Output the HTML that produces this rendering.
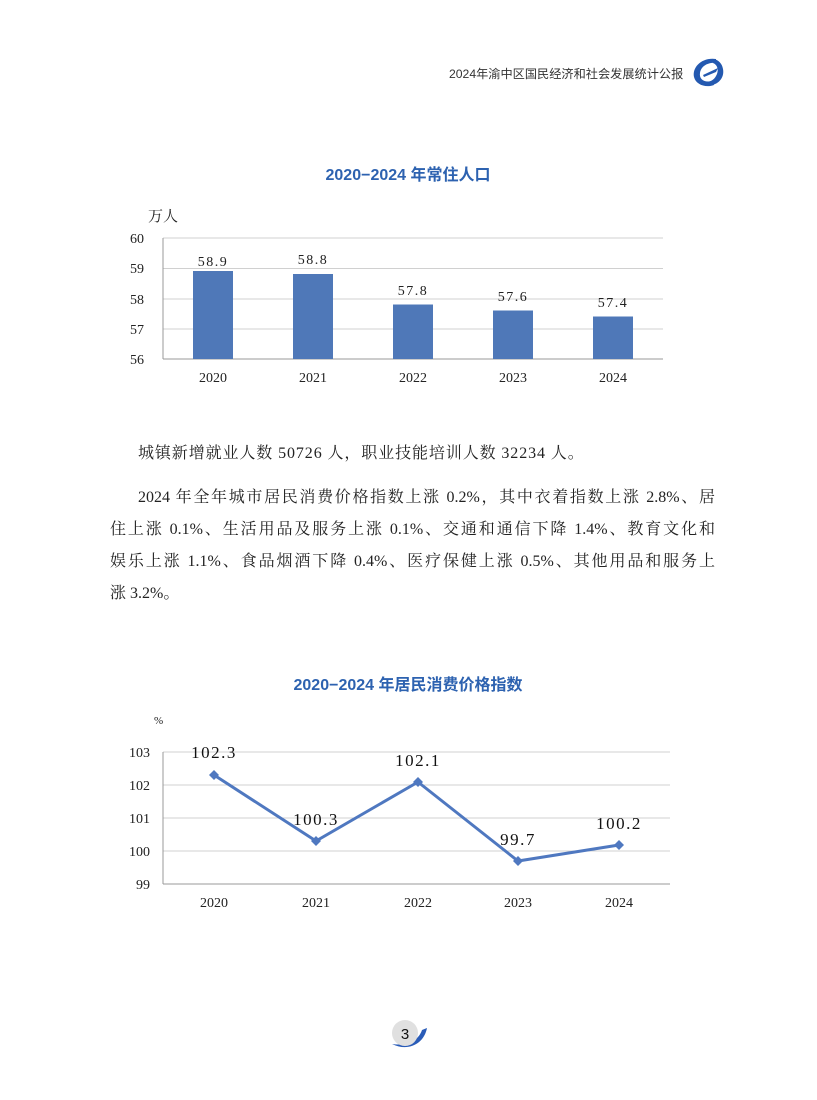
<!DOCTYPE html>
<html><head><meta charset="utf-8"><style>
body{margin:0;width:817px;height:1100px;background:#fff;position:relative;font-family:"Liberation Serif","Noto Serif CJK SC",serif;overflow:hidden}
.l{position:absolute;font-size:16px;color:#222;left:110px;width:605px;line-height:32px;white-space:nowrap;text-align:justify;text-align-last:justify}
</style></head><body>
<div style="position:absolute;left:449px;top:64px;font-family:'Liberation Sans','Noto Sans CJK SC',sans-serif;font-size:12.2px;color:#333;white-space:nowrap">2024年渝中区国民经济和社会发展统计公报</div>
<svg style="position:absolute;left:688px;top:55px" width="40" height="36" viewBox="0 0 40 36">
<path d="M28 4 C14 2 4 12 6 22 C8 30 18 33 26 30 L24 26 C16 28 11 24 12 18 C13 11 20 7 28 8 Z" fill="#2459b0"/>
<path d="M18 30 C28 32 37 24 35 14 C34 8 30 5 26 4 L25 8 C30 10 31 16 28 21 C26 25 22 27 18 27 Z" fill="#2459b0"/>
<path d="M15 20 L30 13 L28 17 L16 22Z" fill="#2459b0"/>
</svg>
<svg style="position:absolute;left:0;top:0" width="817" height="1100">
<g font-family="Liberation Sans,Noto Sans CJK SC,sans-serif" font-weight="bold" fill="#2d62b0" font-size="16" text-anchor="middle">
<text x="408" y="180">2020−2024 年常住人口</text>
<text x="408" y="690">2020−2024 年居民消费价格指数</text>
</g>
<g font-family="Liberation Serif,Noto Serif CJK SC,serif" font-size="14" fill="#222">
<text x="148" y="221" font-size="15">万人</text>
<g stroke="#d0d0d0" stroke-width="1">
<line x1="163" y1="238" x2="663" y2="238"/><line x1="163" y1="268.5" x2="663" y2="268.5"/><line x1="163" y1="299" x2="663" y2="299"/><line x1="163" y1="329" x2="663" y2="329"/></g>
<line x1="163" y1="238" x2="163" y2="359" stroke="#999"/><line x1="163" y1="359" x2="663" y2="359" stroke="#999"/>
<g text-anchor="end"><text x="144" y="243">60</text><text x="144" y="273">59</text><text x="144" y="304">58</text><text x="144" y="334">57</text><text x="144" y="364">56</text></g>
<g fill="#4f78b8"><rect x="193" y="271" width="40" height="88"/><rect x="293" y="274" width="40" height="85"/><rect x="393" y="304.5" width="40" height="54.5"/><rect x="493" y="310.5" width="40" height="48.5"/><rect x="593" y="316.5" width="40" height="42.5"/></g>
<g text-anchor="middle" letter-spacing="1.5"><text x="213" y="266">58.9</text><text x="313" y="264">58.8</text><text x="413" y="295">57.8</text><text x="513" y="301">57.6</text><text x="613" y="307">57.4</text></g>
<g text-anchor="middle"><text x="213" y="382">2020</text><text x="313" y="382">2021</text><text x="413" y="382">2022</text><text x="513" y="382">2023</text><text x="613" y="382">2024</text></g>

<text x="154" y="724" font-size="11">%</text>
<g stroke="#d0d0d0"><line x1="163" y1="752" x2="670" y2="752"/><line x1="163" y1="785" x2="670" y2="785"/><line x1="163" y1="818" x2="670" y2="818"/><line x1="163" y1="851" x2="670" y2="851"/></g>
<line x1="163" y1="752" x2="163" y2="884" stroke="#999"/><line x1="163" y1="884" x2="670" y2="884" stroke="#999"/>
<g text-anchor="end"><text x="150" y="757">103</text><text x="150" y="790">102</text><text x="150" y="823">101</text><text x="150" y="856">100</text><text x="150" y="889">99</text></g>
<polyline points="214,775 316,841 418,782 518,861 619,845" fill="none" stroke="#4f78c0" stroke-width="3"/>
<g fill="#4f78c0"><path d="M214 770l5 5-5 5-5-5z"/><path d="M316 836l5 5-5 5-5-5z"/><path d="M418 777l5 5-5 5-5-5z"/><path d="M518 856l5 5-5 5-5-5z"/><path d="M619 840l5 5-5 5-5-5z"/></g>
<g text-anchor="middle" font-size="17" fill="#111" letter-spacing="1.5"><text x="214" y="758">102.3</text><text x="316" y="825">100.3</text><text x="418" y="766">102.1</text><text x="518" y="845">99.7</text><text x="619" y="829">100.2</text></g>
<g text-anchor="middle"><text x="214" y="907">2020</text><text x="316" y="907">2021</text><text x="418" y="907">2022</text><text x="518" y="907">2023</text><text x="619" y="907">2024</text></g>
</g>
<path d="M392 1044 C408 1052 424 1044 427 1028 L422 1030 C418 1042 405 1046 392 1044Z" fill="#2a5cb8"/>
<circle cx="405" cy="1033" r="13" fill="#e0e0e0"/>
<text x="405" y="1039" text-anchor="middle" font-family="Liberation Sans,sans-serif" font-size="15" fill="#111">3</text>
</svg>
<div class="l" style="top:438px;left:138px;width:auto;text-align-last:auto;letter-spacing:0.9px">城镇新增就业人数 50726 人，职业技能培训人数 32234 人。</div>
<div class="l" style="top:482px;left:138px;width:577px">2024 年全年城市居民消费价格指数上涨 0.2%，其中衣着指数上涨 2.8%、居</div>
<div class="l" style="top:514px">住上涨 0.1%、生活用品及服务上涨 0.1%、交通和通信下降 1.4%、教育文化和</div>
<div class="l" style="top:546px">娱乐上涨 1.1%、食品烟酒下降 0.4%、医疗保健上涨 0.5%、其他用品和服务上</div>
<div class="l" style="top:578px;width:auto;text-align-last:auto">涨 3.2%。</div>
</body></html>
